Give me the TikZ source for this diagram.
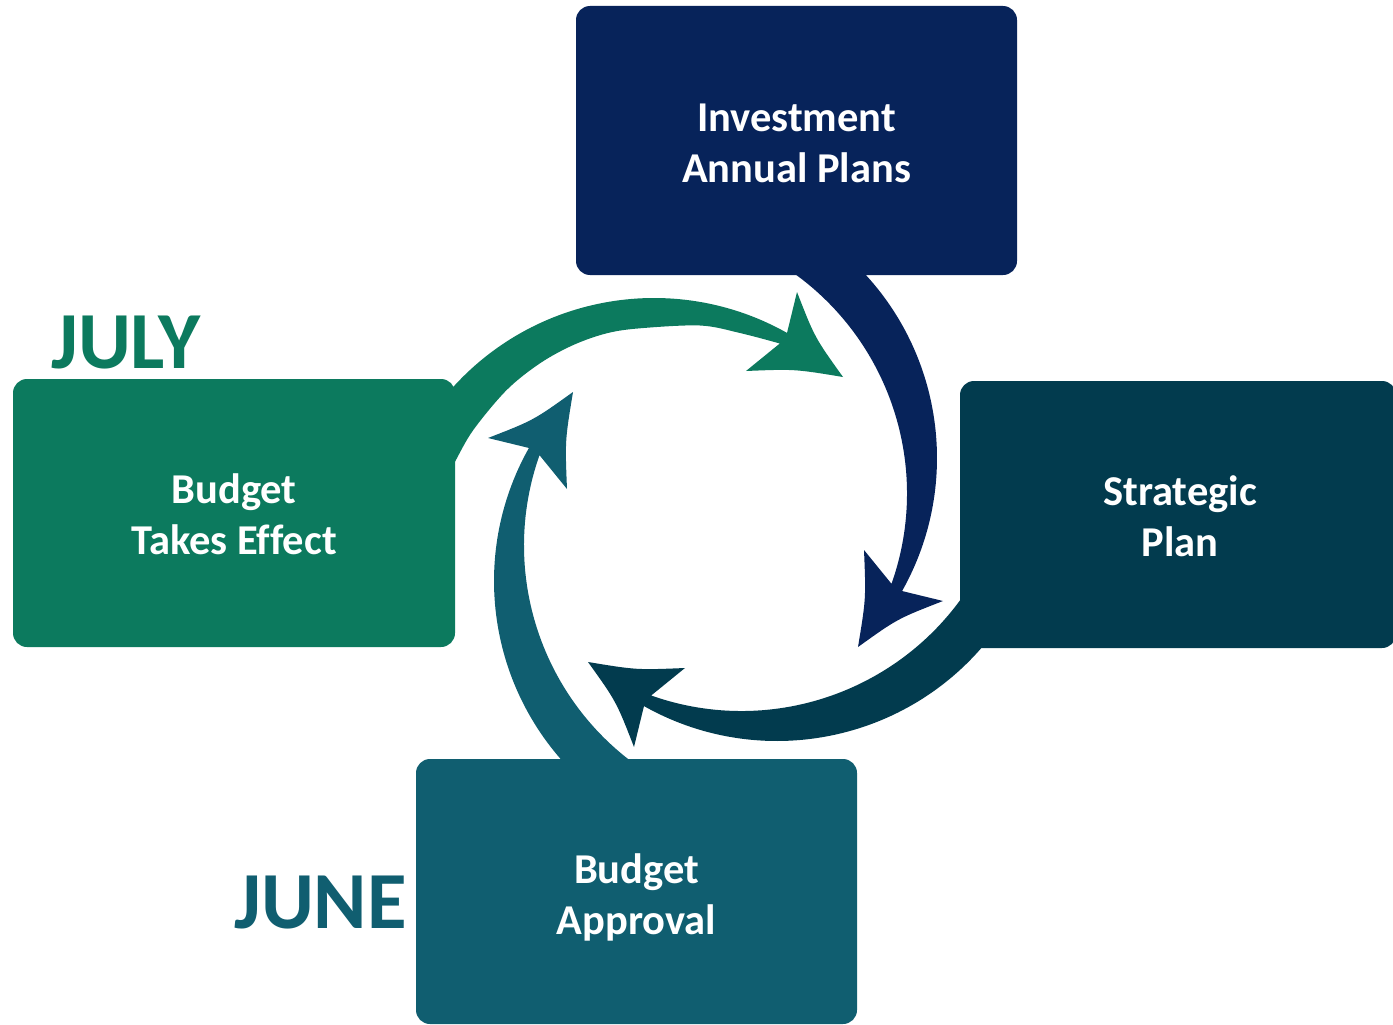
\documentclass[tikz,border=0pt]{standalone}
\usepackage{fontspec}
\setmainfont{Carlito}[Ligatures=NoCommon]
\definecolor{cgreen}{HTML}{0C7A5E}
\definecolor{cnavy}{HTML}{07235A}
\definecolor{cdeep}{HTML}{023B4E}
\definecolor{cteal}{HTML}{105E70}
\begin{document}
\begin{tikzpicture}[x=1pt,y=-1pt,
  stagebox/.style={rounded corners=14pt, inner sep=0pt},
  stagetext/.style={inner sep=0pt, text=white,
    font=\bfseries\fontsize{42.5}{51}\selectfont, align=center},
  month/.style={font=\bfseries\fontsize{81}{90}\selectfont,
    anchor=base west, inner sep=0pt},
  curve/.style={smooth, tension=0.55}]
\useasboundingbox (0,0) rectangle (1393,1025);

% Each cycle arrow is a crescent between two offset circles of radius 271,
% closed by a swept arrowhead.

% green arrow: Budget Takes Effect -> Investment Annual Plans
\fill[cgreen] (443.39,398.45) arc[start angle=-141, end angle=-60.6, radius=271]
  -- (797,292) .. controls (814.7,337.5) .. (843,377)
  .. controls (794.5,369) .. (746,371)
  -- plot[curve] coordinates {(779.8,343.5) (740,333) (700,325.5) (640,328.3) (606.7,333.3) (573.3,345) (540,363.3) (506.7,390) (473.3,430) (455,461.7) (446,478)}
  -- cycle;

% navy arrow: Investment Annual Plans -> Strategic Plan
\fill[cnavy] (854.25,263.06) arc[start angle=-46, end angle=29.4, radius=271]
  -- (943,601) .. controls (897.5,618.7) .. (858,647)
  .. controls (866,598.5) .. (864,550)
  -- (891.50,583.83) arc[start angle=19.47, end angle=-56, radius=271]
  -- cycle;

% dark teal arrow: Strategic Plan -> Budget Approval
\fill[cdeep] (990.55,636.84) arc[start angle=38, end angle=119.4, radius=271]
  -- (634,747) .. controls (616.3,701.5) .. (588,662)
  .. controls (636.5,670) .. (685,668)
  -- (651.17,695.5) arc[start angle=109.47, end angle=30, radius=271]
  -- cycle;

% teal arrow: Budget Approval -> Budget Takes Effect
\fill[cteal] (576.75,775.94) arc[start angle=134, end angle=209.4, radius=271]
  -- (488,438) .. controls (533.5,420.3) .. (573,392)
  .. controls (565,440.5) .. (567,489)
  -- (539.5,455.17) arc[start angle=199.47, end angle=124, radius=271]
  -- cycle;

% stage boxes
\node[stagebox, fill=cnavy, minimum width=441pt, minimum height=269pt] (invest) at (796.5,140.5) {};
\node[stagebox, fill=cdeep, minimum width=436pt, minimum height=267pt] (strat) at (1178,514.5) {};
\node[stagebox, fill=cgreen, minimum width=442pt, minimum height=268pt] (effect) at (234,513) {};
\node[stagebox, fill=cteal, minimum width=441pt, minimum height=265pt] (approval) at (636.5,891.5) {};

% stage titles
\node[stagetext] (invest-t) at ([yshift=-2.5pt]invest.center) {Investment\\Annual Plans};
\node[stagetext] (strat-t) at ([xshift=2pt, yshift=-1.5pt]strat.center) {Strategic\\Plan};
\node[stagetext] (effect-t) at ([yshift=-1.5pt]effect.center) {Budget\\Takes Effect};
\node[stagetext] (approval-t) at ([yshift=-6pt]approval.center) {Budget\\Approval};

% month labels
\node[month, text=cgreen] (july) at (51,368) {JULY};
\node[month, text=cteal] (june) at (234,928) {JUNE};
\end{tikzpicture}
\end{document}
